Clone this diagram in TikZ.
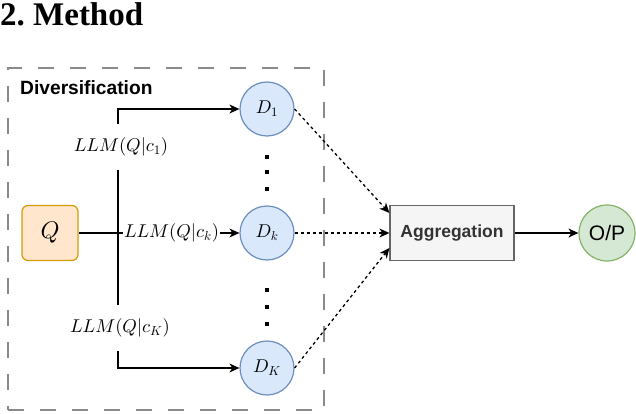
\RequirePackage{fix-cm}
\documentclass[tikz,border=0pt]{standalone}
\DeclareFontShape{OML}{cmm}{m}{it}{<->cmmi10}{}
\DeclareFontShape{OT1}{cmr}{m}{n}{<->cmr10}{}
\DeclareFontShape{OMS}{cmsy}{m}{n}{<->cmsy10}{}
\usepackage{fontspec}
\setmainfont{Liberation Serif}
\setsansfont{Liberation Sans}
\usetikzlibrary{arrows.meta}
\definecolor{dfill}{HTML}{DAE8FC}
\definecolor{dline}{HTML}{6C8EBF}
\definecolor{qfill}{HTML}{FFE6CC}
\definecolor{qline}{HTML}{D79B00}
\definecolor{ofill}{HTML}{D5E8D4}
\definecolor{oline}{HTML}{82B366}
\definecolor{afill}{HTML}{F5F5F5}
\definecolor{aline}{HTML}{666666}
\definecolor{atext}{HTML}{333333}
\definecolor{boxgray}{HTML}{8A8A8A}
\tikzset{
  mathfont/.style={font=\fontsize{18.5}{20}\selectfont},
  dnode/.style={circle, draw=dline, fill=dfill, line width=1.2pt, minimum size=54pt, inner sep=0pt, mathfont},
  qbox/.style={rectangle, rounded corners=6pt, draw=qline, fill=qfill, line width=1.2pt, minimum width=56pt, minimum height=55pt, inner sep=0pt, font=\fontsize{24}{26}\selectfont},
  aggbox/.style={rectangle, draw=aline, fill=afill, line width=1.2pt, minimum width=124pt, minimum height=55pt, inner sep=0pt, text=atext, font=\sffamily\bfseries\fontsize{17.5}{20}\selectfont},
  onode/.style={circle, draw=oline, fill=ofill, line width=1.2pt, minimum size=56pt, inner sep=0pt, font=\sffamily\fontsize{21}{23}\selectfont},
  divbox/.style={rectangle, draw=boxgray, line width=1.5pt, dash pattern=on 16pt off 16pt, minimum width=316pt, minimum height=342pt, inner sep=0pt},
  lbl/.style={fill=white, inner xsep=1pt, inner ysep=3pt, mathfont},
  vlbl/.style={lbl, inner ysep=14pt},
  tip/.style={-{Stealth[length=10pt, width=9pt, inset=3pt]}},
  arr/.style={line width=1.3pt, tip},
  line/.style={line width=1.3pt},
  darr/.style={line width=1.3pt, dash pattern=on 3pt off 3pt, tip},
  dotsq/.style={rectangle, fill=black, minimum size=4.5pt, inner sep=0pt},
}
\begin{document}
\begin{tikzpicture}[x=1pt, y=-1pt]
\useasboundingbox (0,0) rectangle (636,414);
\node[anchor=base west, inner sep=0pt, font=\bfseries\fontsize{33}{36}\selectfont] (title) at (0,26) {2.\ Method};
\node[divbox] (div) at (166,239) {};
\node[anchor=west, inner sep=0pt, font=\sffamily\bfseries\fontsize{19.2}{21}\selectfont] (divlabel) at (20,88) {Diversification};

\node[qbox] (Q) at (50,233) {$Q$};
\node[dnode] (D1) at (267,109) {$D_1$};
\node[dnode] (Dk) at (267,233) {$D_k$};
\node[dnode] (DK) at (267,368) {$D_K$};
\node[aggbox] (Agg) at (452,233) {Aggregation};
\node[onode] (OP) at (607,233) {O/P};

\foreach \yy [count=\i] in {157,172,189,290,307,324}
  \node[dotsq] (dot\i) at (267,\yy) {};

\coordinate (j) at (118,233);
\draw[line] (Q.east) -- (j);
\draw[arr] (j) |- (D1);
\draw[arr] (j) -- (Dk);
\draw[arr] (j) |- (DK);
\node[vlbl] (l1) at (121,147) {$LLM(Q|c_1)$};
\node[lbl] (lk) at (171.5,233) {$LLM(Q|c_k)$};
\node[vlbl] (lK) at (120,328) {$LLM(Q|c_K)$};

\draw[darr] (D1.east) -- ([yshift=20pt]Agg.west);
\draw[darr] (Dk.east) -- (Agg.west);
\draw[darr] (DK.east) -- ([yshift=-15pt]Agg.west);
\draw[arr] (Agg) -- (OP);
\end{tikzpicture}
\end{document}
